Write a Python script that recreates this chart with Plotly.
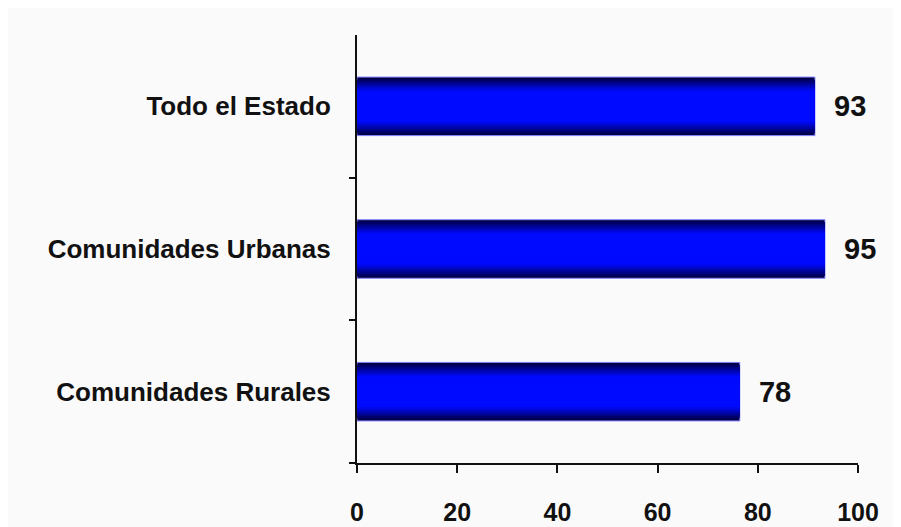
import plotly.graph_objects as go

categories = ["Todo el Estado", "Comunidades Urbanas", "Comunidades Rurales"]
values = [91.4, 93.4, 76.4]
value_labels = ["93", "95", "78"]
x_ticks = [0, 20, 40, 60, 80, 100]

FONT = "Liberation Sans, Arial, sans-serif"

fig = go.Figure()

# Layered bars to imitate a vertical gradient (dark edges, bright center)
n_layers = 10
max_w = 0.41
min_w = 0.12
dark = (0, 0, 70)
bright = (0, 10, 255)
for i in range(n_layers):
    t = i / (n_layers - 1)
    w = max_w - (max_w - min_w) * t
    tt = min(1.0, t * 1.6)
    c = tuple(int(dark[k] + (bright[k] - dark[k]) * tt) for k in range(3))
    fig.add_trace(go.Bar(
        y=categories,
        x=values,
        orientation="h",
        width=w,
        marker=dict(color=f"rgb{c}",
                    line=dict(width=1 if i == 0 else 0, color="#8080ff")),
        text=["\u00a0\u00a0" + f"<b>{s}</b>" for s in value_labels] if i == 0 else None,
        textposition="outside" if i == 0 else "none",
        textfont=dict(family=FONT, size=29, color="#111111"),
        cliponaxis=False,
        hoverinfo="skip",
        showlegend=False,
    ))

fig.update_layout(
    barmode="overlay",
    width=893, height=519,
    margin=dict(l=349, r=43, t=27, b=64),
    paper_bgcolor="#fafafa",
    plot_bgcolor="#fafafa",
    font=dict(family=FONT, size=25, color="#111111"),
)

fig.update_xaxes(
    range=[0, 100],
    tickvals=x_ticks,
    ticktext=[f"<b>{v}</b>" for v in x_ticks],
    showline=True, linecolor="#111111", linewidth=2,
    ticks="outside", ticklen=8, tickwidth=2, tickcolor="#111111",
    showgrid=False, zeroline=False,
    ticklabelstandoff=18,
    automargin=False,
    tickfont=dict(family=FONT, size=25, color="#111111"),
)

fig.update_yaxes(
    categoryorder="array",
    categoryarray=categories[::-1],
    tickvals=categories,
    ticktext=[f"<b>{c}</b>" for c in categories],
    tickson="boundaries",
    showline=True, linecolor="#111111", linewidth=2,
    ticks="outside", ticklen=6, tickwidth=2, tickcolor="#111111",
    showgrid=False, zeroline=False,
    ticklabelstandoff=19,
    automargin=False,
    tickfont=dict(family=FONT, size=26, color="#111111"),
)

fig.update_traces(selector=dict(type="bar"), textangle=0)
fig.write_html("out.html")
